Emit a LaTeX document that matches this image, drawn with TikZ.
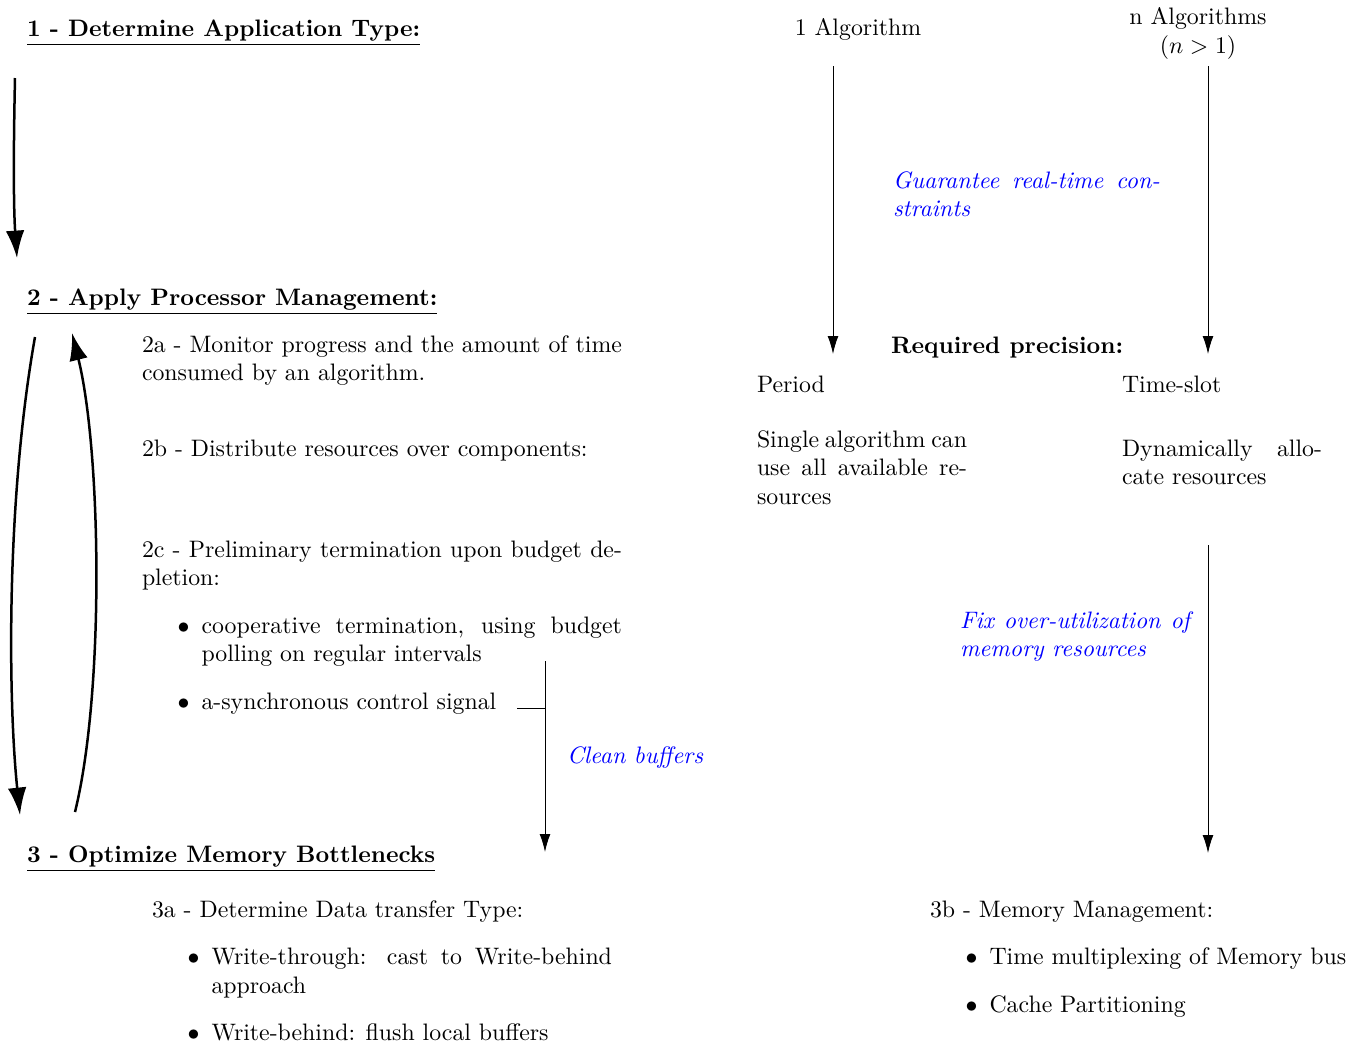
\documentclass[tikz,border=0pt]{standalone}
\usetikzlibrary{arrows.meta}
\renewcommand\labelitemi{$\bullet$}
\begin{document}
\begin{tikzpicture}[x=0.42pt,y=-0.42pt,
  txt/.style={anchor=base west,inner sep=0pt,outer sep=0pt},
  ctxt/.style={anchor=base,inner sep=0pt,outer sep=0pt,align=center},
  blk/.style={txt,align=justify},
  note/.style={blk,text=blue,font=\itshape},
  title/.style={txt,font=\bfseries},
  bigarrow/.style={line width=1.05pt,-{Latex[length=11.5pt,width=7.8pt]}},
  thinarrow/.style={line width=0.4pt,-{Latex[length=7.5pt,width=4.5pt]}},
  plain/.style={line width=0.4pt},
]
\useasboundingbox (0,0) rectangle (1364,1046);

% ---- phase headings ----
\node[title] (t1) at (27,36)  {\underline{1 - Determine Application Type:}};
\node[title] (t2) at (27,305) {\underline{2 - Apply Processor Management:}};
\node[title] (t3) at (27,862) {\underline{3 - Optimize Memory Bottlenecks}};

% ---- phase transitions on the left ----
\coordinate (d1s) at (15,78);  \coordinate (d1e) at (17,258);
\coordinate (d2s) at (35,337); \coordinate (d2e) at (20,815);
\coordinate (u2s) at (75,812); \coordinate (u2e) at (72,333);
\draw[bigarrow] (d1s) .. controls (13,170) and (14,215) .. (d1e);
\draw[bigarrow] (d2s) .. controls (6,500) and (8,700) .. (d2e);
\draw[bigarrow] (u2s) .. controls (105,690) and (101,450) .. (u2e);

% ---- processor management ----
\node[blk,text width=201.6pt] (p2a) at (142,352)
  {2a - Monitor progress and the amount of time consumed by an algorithm.};
\node[blk,text width=201.6pt] (p2b) at (142,456)
  {2b - Distribute resources over components:};
\node[blk,text width=201.6pt] (p2c) at (142,557)
  {2c - Preliminary termination upon budget de-\linebreak pletion:
   \begin{itemize}
   \item cooperative termination, using budget\linebreak polling on regular intervals
   \item a-synchronous control signal
   \end{itemize}};

% clean buffers connector
\coordinate (sig)  at (517,708);
\coordinate (sigj) at (545,708);
\coordinate (cbs)  at (545,661);
\coordinate (cbe)  at (545,852);
\draw[plain] (sig) -- (sigj);
\draw[thinarrow] (cbs) -- (cbe);
\node[note] (clean) at (567,763) {Clean buffers};

% ---- memory optimisation ----
\node[blk,text width=193.2pt] (p3a) at (152,917)
  {3a - Determine Data transfer Type:
   \begin{itemize}
   \item Write-through: cast to Write-behind\linebreak approach
   \item Write-behind: flush local buffers
   \end{itemize}};
\node[blk,text width=180pt] (p3b) at (930,917)
  {3b - Memory Management:
   \begin{itemize}
   \item Time multiplexing of Memory bus
   \item Cache Partitioning
   \end{itemize}};

% ---- application types ----
\node[ctxt] (alg1) at (858,35) {1 Algorithm};
\node[ctxt] (algn) at (1198,53) {n Algorithms\\$(n>1)$};

\coordinate (a1s) at (833,66);   \coordinate (a1e) at (833,354);
\coordinate (ans) at (1208,66);  \coordinate (ane) at (1208,354);
\draw[thinarrow] (a1s) -- (a1e);
\draw[thinarrow] (ans) -- (ane);

\node[note,text width=112.1pt] (rt) at (893,188)
  {Guarantee real-time con-\linebreak straints};
\node[txt,font=\bfseries] (prec) at (891,353) {Required precision:};

\node[txt] (period) at (757,392) {Period};
\node[txt] (slot) at (1122,392) {Time-slot};
\node[blk,text width=88.2pt] (single) at (757,447)
  {Single algorithm can\linebreak use all available re-\linebreak sources};
\node[blk,text width=84pt] (dyn) at (1122,456)
  {Dynamically allo-\linebreak cate resources};

\coordinate (ms) at (1208,545);  \coordinate (me) at (1208,853);
\draw[thinarrow] (ms) -- (me);
\node[note,text width=96.6pt] (fix) at (960,628)
  {Fix over-utilization of\linebreak memory resources};
\end{tikzpicture}
\end{document}
